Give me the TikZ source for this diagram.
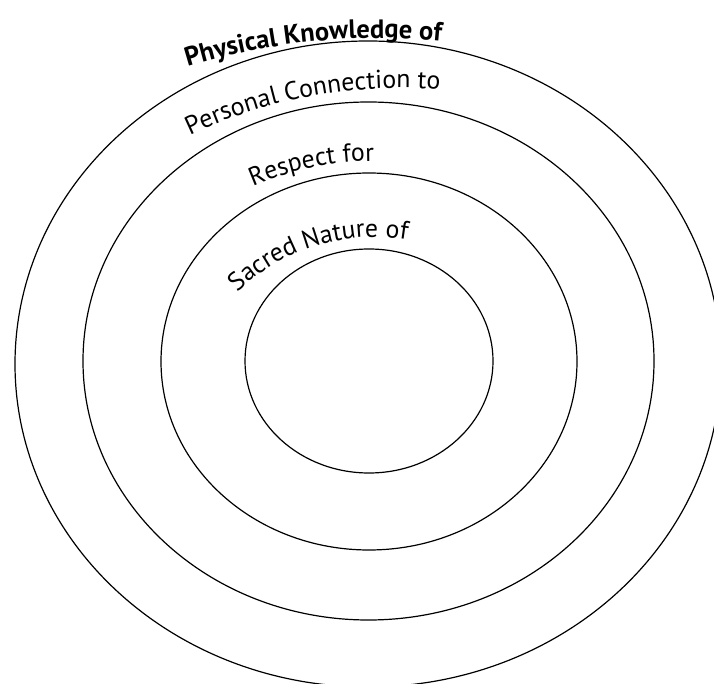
\documentclass[tikz,border=0pt]{standalone}
\usepackage{fontspec}
\setmainfont{PT Sans}
\usetikzlibrary{decorations.text}
\tikzset{
  ring/.style={draw=black, line width=1.2pt},
  arctext/.style={decorate, decoration={text along path, text align=left, text={#1}}}
}
\begin{document}
\begin{tikzpicture}[x=1pt,y=1pt]
\useasboundingbox (0,0) rectangle (714,683);
\fill[white] (0,0) rectangle (714,683);
\begin{scope}
\clip (0,0) rectangle (714,683);
\coordinate (c1) at (368,319);
\coordinate (c2) at (368.5,322);
\coordinate (c3) at (369,321.5);
\coordinate (c4) at (369,322);
\draw[ring] (c1) ellipse [x radius=353, y radius=323];
\draw[ring] (c2) ellipse [x radius=285.5, y radius=259];
\draw[ring] (c3) ellipse [x radius=208, y radius=188.5];
\draw[ring] (c4) ellipse [x radius=124, y radius=112];
\end{scope}
\coordinate (t1) at (380,-13);
\coordinate (t2) at (400,105);
\coordinate (t3) at (375,216);
\coordinate (t4) at (375,246);
\path[arctext={|\fontsize{26.5}{30}\bfseries\selectfont|Physical Knowledge of}]
  (t1) ++(107:658) arc[start angle=107, end angle=60, radius=658];
\path[arctext={|\fontsize{25.8}{30}\selectfont|Personal Connection to}]
  (t2) ++(115.4:490) arc[start angle=115.4, end angle=40, radius=490];
\path[arctext={|\fontsize{25.8}{30}\selectfont|Respect for}]
  (t3) ++(113.5:306) arc[start angle=113.5, end angle=40, radius=306];
\path[arctext={|\fontsize{25.8}{30}\selectfont|Sacred Nature of}]
  (t4) ++(133.6:200) arc[start angle=133.6, end angle=40, radius=200];
\end{tikzpicture}
\end{document}
